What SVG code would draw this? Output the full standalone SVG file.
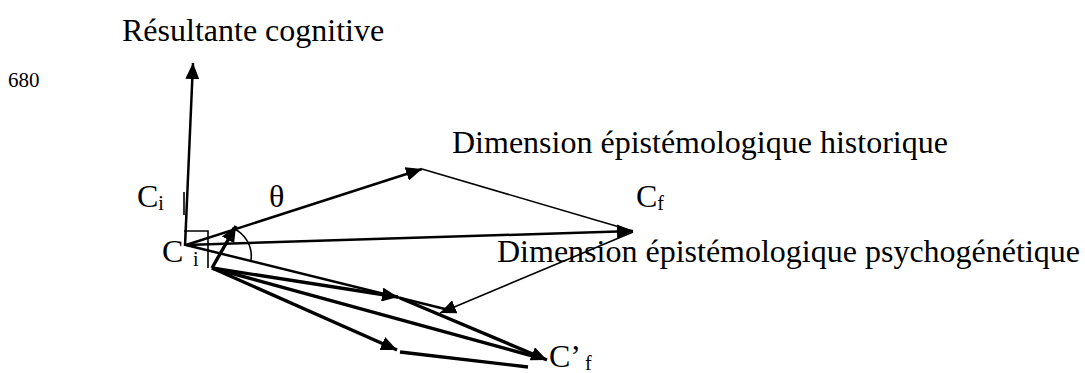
<svg xmlns="http://www.w3.org/2000/svg" width="1085" height="373" viewBox="0 0 1085 373">
<style>
text{font-family:"Liberation Serif","Times New Roman",serif;fill:#000}
.big{font-size:32px}
.sub{font-size:20px}
.small{font-size:21px}
line,path,polyline{stroke:#000;fill:none;stroke-linecap:butt}
.thin{stroke-width:1.6}
.med{stroke-width:2.5}
.thick{stroke-width:3.4}
</style>
<defs>
<marker id="ah" markerUnits="userSpaceOnUse" markerWidth="18" markerHeight="14" refX="16" refY="7" orient="auto">
<path d="M0,0 L16,7 L0,14 z" style="fill:#000;stroke:none"/>
</marker>
</defs>
<g id="labels">
<text class="big" x="122" y="41">Résultante cognitive</text>
<text class="small" x="8" y="87">680</text>
<text class="big" x="452" y="153">Dimension épistémologique historique</text>
<text class="big" x="497" y="262">Dimension épistémologique psychogénétique</text>
</g>
<g id="node-ci-top"><text class="big" x="137" y="207">C<tspan class="sub" dy="3">i</tspan></text></g>
<g id="node-theta"><text class="big" x="269" y="207">θ</text></g>
<g id="node-cf"><text class="big" x="636" y="207">C<tspan class="sub" dy="3">f</tspan></text></g>
<g id="node-ci"><text class="big" x="162" y="262">C</text><text class="sub" x="193" y="266">i</text></g>
<g id="node-cpf"><text class="big" x="549" y="367">C’<tspan class="sub" dx="4" dy="3">f</tspan></text></g>
<g id="connectors">
<line class="med" x1="185" y1="246" x2="193" y2="63" marker-end="url(#ah)"/>
<line class="thin" x1="184" y1="192" x2="184" y2="215"/>
<polyline class="thin" points="184,231 208,231 208,268"/>
<line class="med" x1="186" y1="245" x2="422" y2="169" marker-end="url(#ah)"/>
<line class="thin" x1="422" y1="169" x2="633" y2="231"/>
<line class="med" x1="186" y1="245" x2="633" y2="231" marker-end="url(#ah)"/>
<line class="med" x1="186" y1="245" x2="445" y2="309"/>
<line class="thin" x1="633" y1="232" x2="440" y2="313" marker-end="url(#ah)"/>
<path class="thin" d="M232,228 A30,30 0 0 1 251,260"/>
<line class="thick" x1="212" y1="268" x2="236" y2="226" marker-end="url(#ah)"/>
<line class="thick" x1="212" y1="268" x2="398" y2="297" marker-end="url(#ah)"/>
<line class="thick" x1="400" y1="298" x2="547" y2="360" marker-end="url(#ah)"/>
<line class="thick" x1="212" y1="268" x2="540" y2="358"/>
<line class="thick" x1="212" y1="268" x2="397" y2="350" marker-end="url(#ah)"/>
<line class="thick" x1="400" y1="352" x2="528" y2="367"/>
</g>
</svg>
